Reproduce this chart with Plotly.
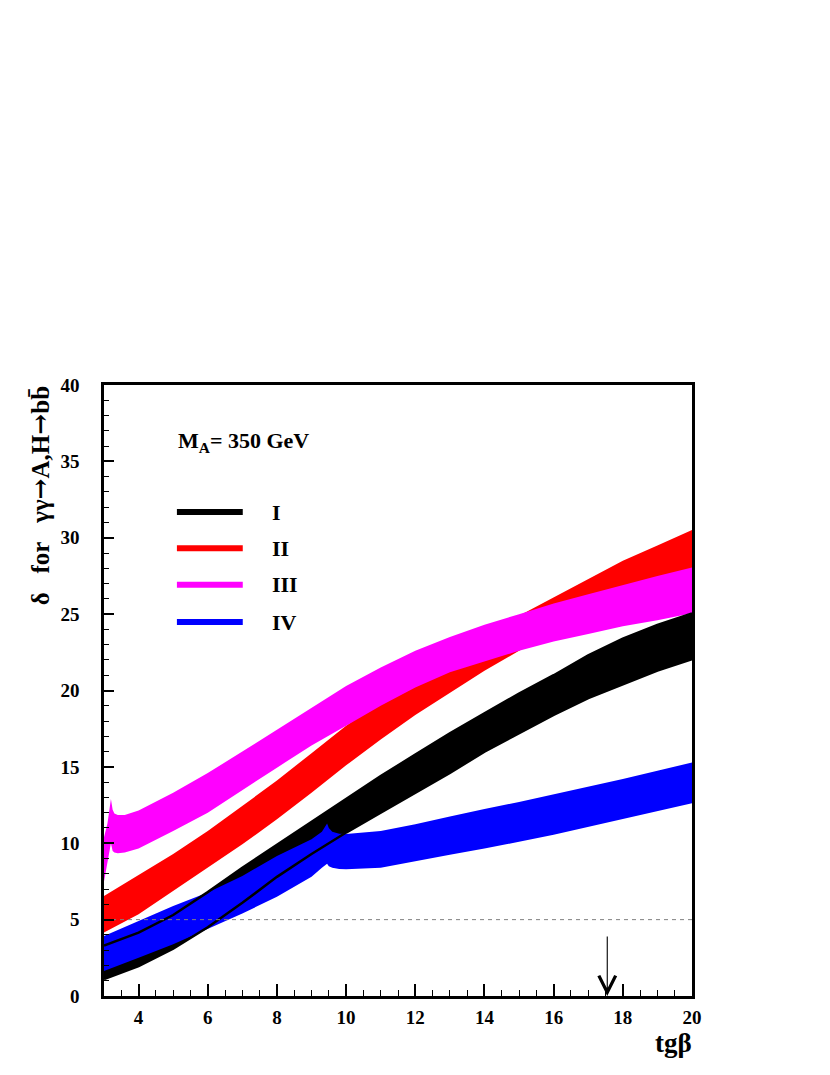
import plotly.graph_objects as go

# tg(beta) grid and band edges
band_I_x = [3, 3.5, 4, 5, 6, 7, 8, 9, 10, 11, 12, 13, 14, 15, 16, 17, 18, 19, 20]
band_I_lo = [1.1, 1.5, 1.95, 3.1, 4.5, 6.1, 7.8, 9.3, 10.7, 12.0, 13.3, 14.6, 16.0, 17.2, 18.4, 19.5, 20.4, 21.3, 22.05]
band_I_hi = [3.3, 3.7, 4.15, 5.3, 6.8, 8.4, 9.9, 11.45, 12.95, 14.4, 15.8, 17.2, 18.5, 19.8, 21.0, 22.3, 23.4, 24.3, 25.05]

band_II_x = [3, 4, 5, 6, 7, 8, 9, 10, 11, 12, 13, 14, 15, 16, 17, 18, 19, 20]
band_II_lo = [4.15, 5.35, 6.88, 8.4, 9.93, 11.57, 13.3, 15.1, 16.8, 18.4, 19.85, 21.3, 22.6, 23.8, 25.0, 26.1, 27.1, 28.0]
band_II_hi = [6.55, 7.9, 9.3, 10.8, 12.45, 14.1, 15.9, 17.7, 19.3, 20.8, 22.2, 23.5, 24.9, 26.1, 27.3, 28.5, 29.5, 30.5]

band_III_x = [3.0, 3.1, 3.2, 3.25, 3.3, 3.4, 3.6, 4, 5, 6, 7, 8, 9, 10, 11, 12, 13, 14, 15, 16, 17, 18, 19, 20]
band_III_lo = [7.5, 8.8, 10.0, 9.5, 9.4, 9.35, 9.4, 9.65, 10.8, 12.0, 13.5, 14.95, 16.4, 17.7, 19.0, 20.2, 21.2, 21.9, 22.6, 23.2, 23.7, 24.2, 24.6, 25.05]
band_III_hi = [10.4, 11.3, 12.9, 12.2, 11.95, 11.85, 11.85, 12.15, 13.3, 14.6, 16.0, 17.45, 18.9, 20.3, 21.5, 22.6, 23.5, 24.3, 25.0, 25.7, 26.3, 26.9, 27.5, 28.05]

band_IV_x = [3, 4, 5, 6, 7, 8, 9, 9.3, 9.45, 9.5, 9.6, 9.8, 10, 11, 12, 13, 14, 15, 16, 17, 18, 19, 20]
band_IV_lo = [1.64, 2.51, 3.38, 4.37, 5.4, 6.5, 7.8, 8.4, 8.65, 8.5, 8.4, 8.32, 8.3, 8.4, 8.8, 9.25, 9.65, 10.1, 10.55, 11.05, 11.55, 12.1, 12.62]
band_IV_hi = [3.93, 4.91, 5.9, 6.77, 7.86, 9.17, 10.26, 10.75, 11.3, 11.0, 10.75, 10.62, 10.6, 10.8, 11.25, 11.75, 12.25, 12.7, 13.2, 13.7, 14.2, 14.75, 15.28]

bands = [
    ("I", band_I_x, band_I_lo, band_I_hi, "#000000"),
    ("II", band_II_x, band_II_lo, band_II_hi, "#ff0000"),
    ("III", band_III_x, band_III_lo, band_III_hi, "#ff00ff"),
    ("IV", band_IV_x, band_IV_lo, band_IV_hi, "#0000ff"),
]

delta_level = 5
arrow_tgb = 17.55
arrow_top = 4.0

SERIF = "Liberation Serif, Times New Roman, serif"
NB = "\u00a0"
ARROW = "<span style=\"font-family:'DejaVu Serif'\">→</span>"

fig = go.Figure()

for name, xs, lo, hi, color in bands:
    fig.add_trace(go.Scatter(
        x=xs + xs[::-1], y=hi + lo[::-1],
        fill="toself", fillcolor=color,
        line=dict(width=0), mode="lines",
        name=name, hoverinfo="skip", showlegend=False,
    ))

# edges of band I sit on top of the others
for edge in (band_I_lo, band_I_hi):
    fig.add_trace(go.Scatter(
        x=band_I_x, y=edge, mode="lines",
        line=dict(color="black", width=2.5),
        hoverinfo="skip", showlegend=False,
    ))

fig.add_trace(go.Scatter(
    x=[3, 20], y=[delta_level, delta_level], mode="lines",
    line=dict(color="#808080", width=1, dash="4px,4px"),
    hoverinfo="skip", showlegend=False,
))

fig.add_annotation(
    x=arrow_tgb, y=0, ax=arrow_tgb, ay=arrow_top,
    xref="x", yref="y", axref="x", ayref="y",
    showarrow=True, arrowhead=5, arrowsize=3, arrowwidth=1.1,
    arrowcolor="black", text="",
)

# legend drawn by hand, ROOT style
leg_y = [0.792, 0.733, 0.673, 0.612]
for (name, _, _, _, color), yy in zip(bands, leg_y):
    fig.add_shape(type="line", xref="paper", yref="paper",
                  x0=0.124, x1=0.236, y0=yy, y1=yy,
                  line=dict(color=color, width=6))
    fig.add_annotation(x=0.282, y=yy, xref="paper", yref="paper",
                       text=f"<b>{name}</b>", showarrow=False,
                       xanchor="left", yanchor="middle",
                       font=dict(family=SERIF, size=22, color="black"))

fig.add_annotation(x=0.122, y=0.907, xref="paper", yref="paper",
                   text="<b>M<sub>A</sub>= 350 GeV</b>", showarrow=False,
                   xanchor="left", yanchor="middle",
                   font=dict(family=SERIF, size=22, color="black"))

ytitle = f"<b>δ{NB}{NB} for{NB}{NB} γγ{ARROW}A,H{ARROW}bb\u0304</b>"
fig.add_annotation(x=-0.109, y=1.002, xref="paper", yref="paper",
                   text=ytitle, showarrow=False,
                   textangle=-90, xanchor="center", yanchor="top",
                   font=dict(family=SERIF, size=25, color="black"))

fig.add_annotation(x=0.968, y=-0.077, xref="paper", yref="paper",
                   text="<b>tgβ</b>", showarrow=False,
                   xanchor="center", yanchor="middle",
                   font=dict(family=SERIF, size=27, color="black"))

axis_common = dict(
    showgrid=False, zeroline=False,
    showline=True, linecolor="black", linewidth=2.5, mirror=True,
    ticks="inside", tickcolor="black", tickwidth=1.5,
    tickfont=dict(family=SERIF, size=19, color="black", weight="bold"),
)

fig.update_xaxes(
    range=[3, 20], tick0=0, dtick=2, ticklen=12, ticklabelstandoff=2,
    minor=dict(dtick=0.5, ticklen=6, ticks="inside", tickcolor="black", tickwidth=1.2),
    **axis_common,
)
fig.update_yaxes(
    range=[0, 40], tick0=0, dtick=5, ticklen=10, ticklabelstandoff=18,
    minor=dict(dtick=1, ticklen=5, ticks="inside", tickcolor="black", tickwidth=1.2),
    **axis_common,
)

# page body keeps an 8px margin, so the figure is 8px smaller each way
fig.update_layout(
    width=822, height=1067,
    margin=dict(l=96, r=138, t=377, b=79),
    plot_bgcolor="white", paper_bgcolor="white",
    showlegend=False,
)

fig.write_html("out.html")
